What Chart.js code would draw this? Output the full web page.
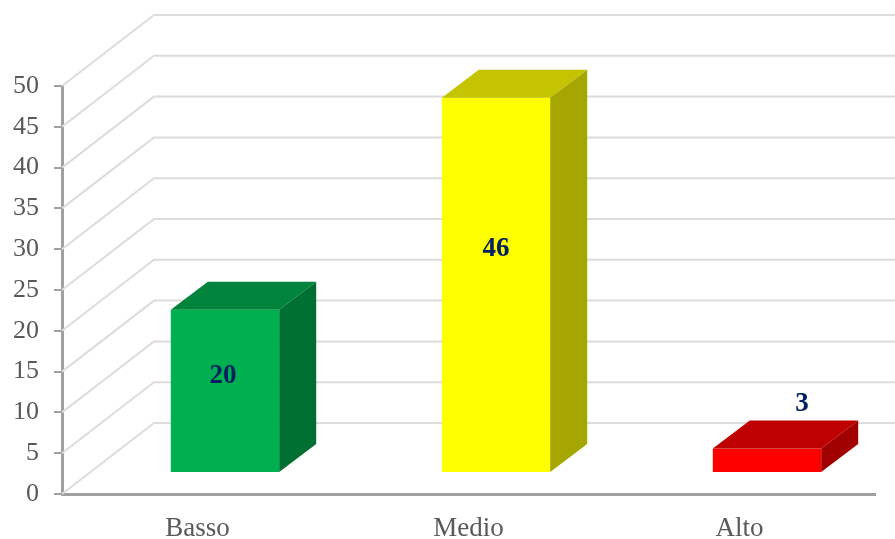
<!DOCTYPE html>
<html>
<head>
<meta charset="utf-8">
<title>Basso Medio Alto</title>
<script src="https://cdn.jsdelivr.net/npm/chart.js@4"></script>
<style>
  html, body { margin: 0; padding: 0; background: #fff; }
  #wrap { width: 895px; height: 539px; overflow: hidden; }
</style>
</head>
<body>
<div id="wrap"><canvas id="riskChart" width="895" height="539"></canvas></div>
<script>
const categories = ["Basso", "Medio", "Alto"];
const values = [20, 46, 3];
const yTicks = [0, 5, 10, 15, 20, 25, 30, 35, 40, 45, 50];

const frontColors = ["#00b050", "#ffff00", "#ff0000"];
const topColors = ["#00843c", "#c4c400", "#bf0000"];
const sideColors = ["#006f32", "#a6a600", "#a00000"];

// depth of the fake 3D box, and how far the bars stand from the front plane
const wallDepth = { x: 92, y: -71 };
const barShift = { x: 27.5, y: -21 };
const barDepth = { x: 37, y: -28 };

// value label offsets from the centre of each front face
const labelOffsets = [[-2, -15], [0, -36], [35, -56]];

const serif = '"Liberation Serif", "Times New Roman", serif';

function fillPoly(ctx, color, pts) {
  ctx.fillStyle = color;
  ctx.beginPath();
  pts.forEach((p, i) => (i ? ctx.lineTo(p[0], p[1]) : ctx.moveTo(p[0], p[1])));
  ctx.closePath();
  ctx.fill();
}

const box3d = {
  id: "box3d",
  // grid lines run up the side wall and then along the back wall
  beforeDatasetsDraw(chart) {
    const { ctx, scales: { y }, chartArea, width } = chart;
    ctx.save();
    ctx.strokeStyle = "#dcdcdc";
    ctx.lineWidth = 2;
    yTicks.forEach((tick) => {
      const py = y.getPixelForValue(tick);
      ctx.beginPath();
      ctx.moveTo(chartArea.left, py);
      ctx.lineTo(chartArea.left + wallDepth.x, py + wallDepth.y);
      ctx.lineTo(width, py + wallDepth.y);
      ctx.stroke();
    });
    ctx.restore();
  },
  beforeDatasetDraw(chart) {
    chart.ctx.save();
    chart.ctx.translate(barShift.x, barShift.y);
  },
  afterDatasetDraw(chart, args) {
    const ctx = chart.ctx;
    args.meta.data.forEach((bar, i) => {
      const left = bar.x - bar.width / 2;
      const right = bar.x + bar.width / 2;
      const dx = barDepth.x;
      const dy = barDepth.y;
      fillPoly(ctx, topColors[i], [[left, bar.y], [right, bar.y], [right + dx, bar.y + dy], [left + dx, bar.y + dy]]);
      fillPoly(ctx, sideColors[i], [[right, bar.y], [right + dx, bar.y + dy], [right + dx, bar.base + dy], [right, bar.base]]);

      ctx.fillStyle = "#002060";
      ctx.font = "bold 27px " + serif;
      ctx.textAlign = "center";
      ctx.textBaseline = "middle";
      ctx.fillText(String(values[i]), bar.x + labelOffsets[i][0], (bar.y + bar.base) / 2 + labelOffsets[i][1]);
    });
    ctx.restore();
  }
};

new Chart(document.getElementById("riskChart"), {
  type: "bar",
  data: {
    labels: categories,
    datasets: [{
      data: values,
      backgroundColor: frontColors,
      borderWidth: 0,
      barPercentage: 0.4,
      categoryPercentage: 1
    }]
  },
  plugins: [box3d],
  options: {
    responsive: false,
    animation: false,
    layout: { padding: { top: 86, right: 20, left: 0, bottom: 0 } },
    plugins: {
      legend: { display: false },
      tooltip: { enabled: false }
    },
    scales: {
      x: {
        afterFit(scale) { scale.height = 45; },
        grid: { display: false },
        border: { display: true, color: "#a0a0a0", width: 3 },
        ticks: {
          color: "#595959",
          padding: 11,
          maxRotation: 0,
          font: { family: serif, size: 27 }
        }
      },
      y: {
        min: 0,
        max: 50,
        afterFit(scale) { scale.width = 62; },
        afterBuildTicks(scale) { scale.ticks = yTicks.map((value) => ({ value })); },
        grid: { drawOnChartArea: false, color: "#a0a0a0", lineWidth: 2, tickLength: 8 },
        border: { display: true, color: "#a0a0a0", width: 3 },
        ticks: {
          color: "#595959",
          padding: 15,
          font: { family: serif, size: 26 }
        }
      }
    }
  }
});
</script>
</body>
</html>
